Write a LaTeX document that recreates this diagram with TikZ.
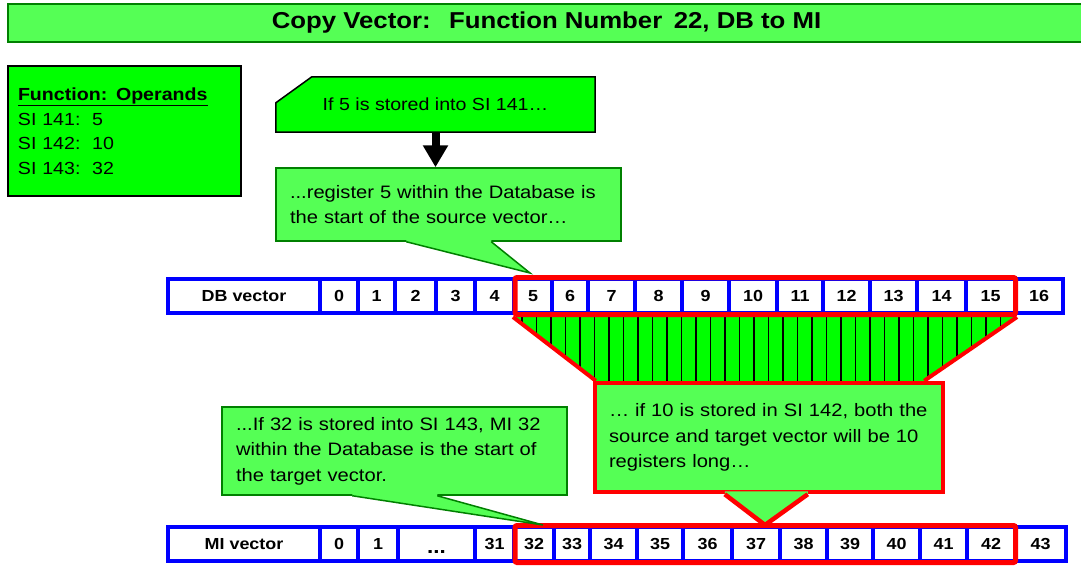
\documentclass[tikz,border=0pt]{standalone}
\usepackage{fontspec}
\setmainfont{Liberation Sans}[FakeStretch=1.12]
\usetikzlibrary{arrows.meta,calc,backgrounds}
\definecolor{litegreen}{RGB}{85,255,85}
\definecolor{brightgreen}{RGB}{0,255,0}
\definecolor{darkgreen}{RGB}{0,128,0}
\tikzset{
  titlebar/.style={rectangle, fill=litegreen, draw=darkgreen, line width=2pt,
                   font=\fontsize{23}{23}\selectfont\bfseries},
  opbox/.style={rectangle, fill=brightgreen, draw=black, line width=1.5pt, align=left,
                inner xsep=10pt, text width=213pt, minimum height=130pt,
                font=\fontsize{17.5}{24.5}\selectfont},
  note/.style={rectangle, fill=litegreen, draw=darkgreen, line width=1.5pt, align=left,
               inner xsep=14pt, font=\fontsize{18}{25.5}\selectfont},
  rednote/.style={note, draw=red, line width=4.5pt},
  cell/.style={rectangle, draw=blue, line width=4.5pt, fill=white, minimum height=34pt,
               inner sep=0pt, outer sep=0pt, font=\fontsize{16}{16}\selectfont\bfseries},
  redframe/.style={draw=red, line width=5pt, rounded corners=2pt},
  hatchline/.style={draw=black, line width=1.5pt}
}

\begin{document}
\begin{tikzpicture}[x=1pt, y=-1pt, >=Latex]
        \useasboundingbox (0,0) rectangle (1081,565);

        % --- Title
        \node[titlebar, minimum width=1077pt, minimum height=38pt] (title) at (546.5,23)
             {Copy Vector:\hspace{0.8em}Function Number\hspace{0.5em}22, DB to MI};

        % --- Operands
        \node[opbox] (ops) at (124.5,131)
             {\underline{\textbf{Function: Operands}}\\
              SI 141:\ \ 5\\
              SI 142:\ \ 10\\
              SI 143:\ \ 32};

        % --- Box with cut corner
        \node[font=\fontsize{17.5}{17.5}\selectfont, minimum width=319pt, minimum height=55pt] (q1) at (435.5,104.5)
             {If 5 is stored into SI 141\ldots};
        \begin{scope}[on background layer]
          \filldraw[fill=brightgreen, draw=black, line width=1.5pt]
            (q1.south west) -- ($(q1.north west)+(0,26)$) -- ($(q1.north west)+(36,0)$)
            -- (q1.north east) -- (q1.south east) -- cycle;
        \end{scope}

        % --- Source callout
        \node[note, text width=317pt, minimum height=73pt] (c2) at (448.5,204.5)
             {...register 5 within the Database is\\the start of the source vector\ldots};
        \draw[-{Triangle[width=24pt,length=22pt]}, line width=8pt]
             (q1.south) -- (q1.south |- c2.north);

        % --- DB vector
        \foreach \l/\r/\t [count=\i] in {168/320/DB vector, 320/358/0, 358/395/1, 395/436/2,
            436/475/3, 475/514/4, 514/552/5, 552/588/6, 588/635/7, 635/682/8, 682/729/9,
            729/777/10, 777/823/11, 823/870/12, 870/917/13, 917/966/14, 966/1015/15, 1015/1063/16}
          \node[cell, minimum width={\r-\l}] (db\i) at ({(\l+\r)/2},296) {\t};
        \draw[redframe] ($(db7.north west)+(1,-1.5)$) rectangle ($(db17.south east)+(0.5,1.5)$);

        \coordinate (tip2) at ($(db7.north)+(-3,-6)$);
        \fill[litegreen] ($(c2.south west)+(131,-2)$) -- ($(c2.south west)+(131,0)$) -- (tip2)
             -- ($(c2.south west)+(216,0)$) -- ($(c2.south west)+(216,-2)$) -- cycle;
        \draw[darkgreen, line width=1.5pt] ($(c2.south west)+(131,0)$) -- (tip2) -- ($(c2.south west)+(216,0)$);

        % --- Length callout and hatched funnel
        \node[rednote, text width=320pt, minimum height=109pt] (len) at (769,437.5)
             {\ldots\ if 10 is stored in SI 142, both the\\source and target vector will be 10\\registers long\ldots};
        \coordinate (tl) at ($(db7.south west)+(-1,4)$);
        \coordinate (tr) at ($(db17.south east)+(2,4)$);
        \coordinate (bl) at ($(len.north west)+(3,0)$);
        \coordinate (br) at ($(len.north east)+(-21,0)$);
        \begin{scope}[on background layer]
          \fill[brightgreen] (tl) -- (tr) -- (br) -- (bl) -- cycle;
          \clip (tl) -- (tr) -- (br) -- (bl) -- cycle;
          \foreach \x in {522,536.5,...,1012}
            \draw[hatchline] (\x,310) -- (\x,390);
        \end{scope}
        \draw[red, line width=4pt] (tl) -- (bl);
        \draw[red, line width=4pt] (tr) -- (br);

        % --- MI vector
        \foreach \l/\r/\t [count=\i] in {168/320/MI vector, 320/358/0, 358/398/1,
            398/475/\smash{\raisebox{-9pt}{\fontsize{20}{20}\selectfont...}}, 475/514/31, 514/554/32,
            554/590/33, 590/637/34, 637/683/35, 683/732/36, 732/780/37, 780/827/38,
            827/873/39, 873/920/40, 920/967/41, 967/1015/42, 1015/1066/43}
          \node[cell, minimum width={\r-\l}] (mi\i) at ({(\l+\r)/2},544) {\t};
        \draw[redframe] ($(mi6.north west)+(1,-1.5)$) rectangle ($(mi16.south east)+(0.5,1.5)$);

        \coordinate (tip4) at ($(mi11.north)+(9,-2)$);
        \fill[litegreen] ($(len.south west)+(132,-3)$) -- ($(len.south west)+(132,0)$) -- (tip4)
             -- ($(len.south west)+(215,0)$) -- ($(len.south west)+(215,-3)$) -- cycle;
        \draw[red, line width=4.5pt] ($(len.south west)+(132,0)$) -- (tip4) -- ($(len.south west)+(215,0)$);

        % --- Target callout
        \node[note, text width=317pt, minimum height=88pt] (c3) at (394.5,451)
             {...If 32 is stored into SI 143, MI 32\\within the Database is the start of\\the target vector.};
        \coordinate (tip3) at ($(mi6.north)+(9,-2)$);
        \fill[litegreen] ($(c3.south west)+(131,-2)$) -- ($(c3.south west)+(131,0)$) -- (tip3)
             -- ($(c3.south west)+(216,0)$) -- ($(c3.south west)+(216,-2)$) -- cycle;
        \draw[darkgreen, line width=1.5pt] ($(c3.south west)+(131,0)$) -- (tip3) -- ($(c3.south west)+(216,0)$);

        \end{tikzpicture}
\end{document}
